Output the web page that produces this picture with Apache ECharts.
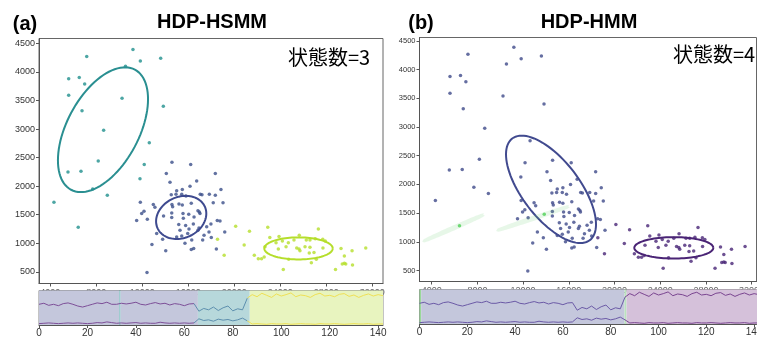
<!DOCTYPE html>
<html>
<head>
<meta charset="utf-8">
<script src="https://cdn.jsdelivr.net/npm/echarts@6.0.0/dist/echarts.min.js"></script>
<style>
  html, body { margin: 0; padding: 0; background: #fff; }
  #chart { width: 757px; height: 337px; }
</style>
</head>
<body>
<div id="chart"></div>
<script>
// ---- scatter points (feature 1, feature 2) ----
const tealPts = [
  [7170, 4270], [11190, 4390], [11830, 4190], [13600, 4240], [10540, 4100],
  [5600, 3880], [6520, 3900], [6990, 3790], [5600, 3590], [10240, 3540],
  [13830, 3400], [6760, 3320], [8640, 2980], [12610, 2760], [8170, 2440],
  [12170, 2380], [5540, 2250], [6670, 2260], [7690, 1950], [8960, 1840],
  [11800, 2130], [4320, 1720]
];
const bluePts = [
  [14090, 2220], [18350, 2220], [14410, 2070], [16730, 2090], [16150, 2000],
  [15480, 1940], [14990, 1920], [18840, 1940], [14520, 1850], [14930, 1860],
  [15430, 1860], [15800, 1830], [17040, 1860], [17190, 1850], [17830, 1860],
  [18350, 1840], [11830, 1720], [12960, 1680], [13100, 1630], [14580, 1680],
  [15190, 1690], [15480, 1670], [16260, 1700], [18170, 1710], [19020, 1710],
  [12150, 1560], [11950, 1520], [14640, 1640], [14560, 1530], [15540, 1520],
  [16040, 1510], [16840, 1570], [16960, 1550], [17020, 1520], [16500, 1460],
  [11510, 1400], [12440, 1420], [14560, 1450], [15570, 1440], [16440, 1340],
  [18520, 1400], [18760, 1390], [17970, 1340], [15170, 1330], [15770, 1310],
  [16930, 1270], [13250, 1170], [15280, 1230], [16060, 1250], [16840, 1230],
  [19170, 1200], [17370, 1140], [15950, 1170], [15430, 1130], [14990, 1110],
  [16300, 1060], [17250, 1060], [18000, 1100], [13770, 1070], [15710, 1000],
  [12840, 980], [16260, 890], [16470, 910], [18440, 900], [14040, 870],
  [12410, 490], [17800, 1200], [17600, 1290], [14580, 2420], [16210, 2380]
];
const yellowPts = [
  [18540, 1070], [19120, 790], [20120, 1300], [21320, 1210], [20860, 970],
  [21740, 790], [22090, 730], [22370, 730], [22600, 760], [22910, 1280],
  [23090, 1100], [22670, 940], [23630, 1010], [23890, 1120], [23830, 900],
  [24260, 540], [24180, 1040], [24700, 1010], [24730, 720], [25650, 1140],
  [25190, 1060], [25630, 900], [25710, 870], [26150, 940], [26260, 1060],
  [26580, 1060], [26580, 930], [26520, 830], [26930, 840], [27040, 1080],
  [27310, 1250], [27690, 1070], [27910, 1040], [27710, 920], [27130, 720],
  [26700, 660], [29280, 910], [29570, 780], [30240, 870], [31430, 920],
  [28800, 540], [29390, 640], [29570, 650], [29690, 640], [30280, 620],
  [24500, 940], [25430, 920]
];
// points that change state between the two models (teal / blue in a, green in b)
const switchPts = [[6430, 1280], [13850, 1480]];

// ---- gaussian ellipses: center + two semi-axis vectors (data units) ----
const ellCenterA = [[8583, 2988], [15383, 1453], [25584, 911]];
const ellAxisA = [[2774, 1051, -2765, 296], [2049, 192, -754, 325], [2974, 0, 0, 193]];
const ellCenterB = [[14442, 1914], [25191, 895], [5934, 1243], [12893, 1409]];
const ellAxisB = [[3396, -886, 1996, 303], [3457, 0, 0, 186], [2582, 226, -35, 16], [3064, 205, -35, 16]];

// ---- bottom strip: two observed sequences, t = 0,2,4,...,142 (normalised) ----
const stripUpper = [
  0.60, 0.63, 0.57, 0.60, 0.56, 0.62, 0.64, 0.60, 0.55, 0.52, 0.56, 0.60, 0.64, 0.62, 0.66, 0.60,
  0.60, 0.63, 0.61, 0.63, 0.66, 0.60, 0.58, 0.62, 0.65, 0.61, 0.63, 0.58, 0.62, 0.60, 0.56, 0.61, 0.62,
  0.40, 0.48, 0.44, 0.52, 0.42, 0.50, 0.55, 0.41, 0.47, 0.44, 0.78,
  0.88, 0.82, 0.92, 0.86, 0.80, 0.90, 0.84, 0.88, 0.93, 0.82, 0.87, 0.85, 0.80, 0.88,
  0.92, 0.84, 0.86, 0.82, 0.89, 0.91, 0.83, 0.87, 0.80, 0.86, 0.90, 0.84, 0.88, 0.85
];
const stripLower = [
  0.04, 0.05, 0.06, 0.05, 0.04, 0.05, 0.06, 0.05, 0.06, 0.05, 0.04, 0.05, 0.07, 0.06, 0.09, 0.07,
  0.05, 0.06, 0.05, 0.06, 0.07, 0.05, 0.06, 0.05, 0.05, 0.08, 0.06, 0.05, 0.06, 0.05, 0.06, 0.05, 0.06,
  0.18, 0.13, 0.15, 0.11, 0.17, 0.14, 0.16, 0.12, 0.15, 0.20, 0.12,
  0.03, 0.04, 0.03, 0.02, 0.04, 0.03, 0.03, 0.04, 0.02, 0.03, 0.04, 0.03, 0.03, 0.02,
  0.04, 0.03, 0.03, 0.04, 0.03, 0.02, 0.03, 0.04, 0.03, 0.03, 0.04, 0.02, 0.03, 0.03
];
// state segments [start, end] on the time axis
const segA = [[0, 33.1], [33.1, 33.7], [33.7, 65.6], [65.6, 87], [87, 142]];
const segB = [[0, 0.7], [0.7, 85.8], [85.8, 86.6], [86.6, 142]];
// index ranges of the sequences drawn in each state's colour
const lineRangesA = [[0, 33], [32, 44], [43, 72]];
const lineRangesB = [[0, 44], [43, 72]];

const yTicks = [500, 1000, 1500, 2000, 2500, 3000, 3500, 4000, 4500];
const xTicks = [4000, 8000, 12000, 16000, 20000, 24000, 28000, 32000];

// colours
const cTeal = '#21908d', cBlue = '#3b4f8a', cYellow = '#b5de2b';
const cBlueB = '#3e4a89', cPurple = '#482677', cGreen = '#4fcf55';
const segColorsA = ['#c4c7dc', '#8cc3c6', '#c4c7dc', '#b7d8db', '#e8f4bf'];
const segColorsB = ['#9ad89a', '#c4c7dc', '#b9e3bd', '#d5c1da'];
const lineColorsA = ['#7d4f98', '#5d8fae', '#efe055'];
const lineColorsB = ['#6b5aa6', '#7a4590'];
const ellColorsA = ['#2a8f91', '#3e4a8f', '#b5de2b'];
const ellColorsB = ['#414a8f', '#4a2475', '#5ec962', '#5ec962'];
const ellOpacityB = [1, 1, 0.15, 0.15];

const stripData = (arr, r) => arr.map((v, i) => [i * 2, v]).slice(r[0], r[1]);

function ellipseItem(axes, colors, opac) {
  return function (params, api) {
    const i = params.dataIndex;
    const cx = api.value(0), cy = api.value(1);
    const a = axes[i];
    const pts = [];
    for (let k = 0; k <= 96; k++) {
      const t = (k / 96) * Math.PI * 2;
      pts.push(api.coord([
        cx + a[0] * Math.cos(t) + a[2] * Math.sin(t),
        cy + a[1] * Math.cos(t) + a[3] * Math.sin(t)
      ]));
    }
    return {
      type: 'polyline',
      shape: { points: pts },
      style: { stroke: colors[i], lineWidth: opac && opac[i] < 1 ? 3 : 2, fill: null, opacity: opac ? opac[i] : 1 }
    };
  };
}

function segItem(colors) {
  return function (params, api) {
    const s = api.coord([api.value(0), 1]);
    const e = api.coord([api.value(1), 0]);
    return {
      type: 'rect',
      shape: { x: s[0], y: s[1], width: e[0] - s[0], height: e[1] - s[1] },
      style: { fill: colors[params.dataIndex], stroke: '#999', lineWidth: 0 }
    };
  };
}

// one line series per state colour
function stripLines(xi, ranges, colors) {
  const out = [];
  ranges.forEach((r, k) => {
    [stripUpper, stripLower].forEach((arr) => {
      out.push({
        type: 'line', xAxisIndex: xi, yAxisIndex: xi, data: stripData(arr, r),
        showSymbol: false, silent: true, zlevel: 1, z: 11,
        lineStyle: { width: 1, color: colors[k] }
      });
    });
  });
  return out;
}

const axisGray = { lineStyle: { color: '#555', width: 1 } };
const lblFont = '"Liberation Sans", Arial';
const plain = (v) => String(v);

function scatterX(grid, min, max) {
  return {
    gridIndex: grid, type: 'value', min: min, max: max,
    axisLine: axisGray, splitLine: { show: false },
    axisTick: { customValues: xTicks, length: 3, lineStyle: { color: '#555' } },
    axisLabel: { customValues: xTicks, formatter: plain, fontSize: 9, color: '#666', margin: 5, fontFamily: lblFont }
  };
}
function scatterY(grid, min, max, fs) {
  return {
    gridIndex: grid, type: 'value', min: min, max: max,
    axisLine: { show: true, lineStyle: { color: '#555', width: 1 } }, splitLine: { show: false },
    axisTick: { customValues: yTicks, length: 3, lineStyle: { color: '#555' } },
    axisLabel: { customValues: yTicks, formatter: plain, fontSize: fs, color: '#333', margin: 4, fontFamily: lblFont }
  };
}
function stripX(grid, max) {
  return {
    gridIndex: grid, type: 'value', min: 0, max: max, interval: 20,
    axisLine: axisGray, splitLine: { show: false },
    axisTick: { length: 3, lineStyle: { color: '#555' } },
    axisLabel: { fontSize: 10, color: '#333', margin: 3, fontFamily: lblFont, showMaxLabel: false }
  };
}
function stripY(grid) {
  return {
    gridIndex: grid, type: 'value', min: 0, max: 1,
    axisLine: { show: false }, axisTick: { show: false }, axisLabel: { show: false }, splitLine: { show: false }
  };
}

const gridBase = { show: true, borderWidth: 1, outerBoundsMode: 'none', containLabel: false };

const myChart = echarts.init(document.getElementById('chart'));
myChart.setOption({
  animation: false,
  backgroundColor: '#fff',
  grid: [
    Object.assign({ left: 39, top: 38.5, width: 344, height: 245, borderColor: '#666' }, gridBase),
    Object.assign({ left: 39, top: 290.5, width: 344, height: 34.5, borderColor: '#888' }, gridBase),
    Object.assign({ left: 419.5, top: 37.5, width: 337, height: 244, borderColor: '#666' }, gridBase),
    Object.assign({ left: 419.5, top: 289.5, width: 337, height: 34.5, borderColor: '#888' }, gridBase)
  ],
  xAxis: [
    scatterX(0, 3020, 32930),
    stripX(1, 142),
    scatterX(2, 2930, 32430),
    stripX(3, 141)
  ],
  yAxis: [
    scatterY(0, 297, 4584, 9),
    stripY(1),
    scatterY(2, 308, 4561, 7.5),
    stripY(3)
  ],
  series: [
    // ---- (a) HDP-HSMM ----
    { type: 'scatter', xAxisIndex: 0, yAxisIndex: 0, symbolSize: 3.5, itemStyle: { color: cTeal }, data: tealPts.concat([switchPts[0]]) },
    { type: 'scatter', xAxisIndex: 0, yAxisIndex: 0, symbolSize: 3.5, itemStyle: { color: cBlue }, data: bluePts.concat([switchPts[1]]) },
    { type: 'scatter', xAxisIndex: 0, yAxisIndex: 0, symbolSize: 3.5, itemStyle: { color: cYellow }, data: yellowPts },
    { type: 'custom', xAxisIndex: 0, yAxisIndex: 0, renderItem: ellipseItem(ellAxisA, ellColorsA), data: ellCenterA, z: 3 },
    { type: 'custom', xAxisIndex: 1, yAxisIndex: 1, renderItem: segItem(segColorsA), data: segA, encode: { x: [0, 1] }, zlevel: 1, z: 10 },
    // ---- (b) HDP-HMM ----
    { type: 'custom', xAxisIndex: 2, yAxisIndex: 2, renderItem: ellipseItem(ellAxisB, ellColorsB, ellOpacityB), data: ellCenterB, z: 3 },
    { type: 'scatter', xAxisIndex: 2, yAxisIndex: 2, symbolSize: 3.5, itemStyle: { color: cBlueB }, data: tealPts.concat(bluePts) },
    { type: 'scatter', xAxisIndex: 2, yAxisIndex: 2, symbolSize: 3.5, itemStyle: { color: cPurple }, data: yellowPts },
    { type: 'scatter', xAxisIndex: 2, yAxisIndex: 2, symbolSize: 3.5, itemStyle: { color: cGreen }, data: switchPts, z: 5 },
    { type: 'custom', xAxisIndex: 3, yAxisIndex: 3, renderItem: segItem(segColorsB), data: segB, encode: { x: [0, 1] }, zlevel: 1, z: 10 }
  ].concat(stripLines(1, lineRangesA, lineColorsA), stripLines(3, lineRangesB, lineColorsB)),
  graphic: [
    { type: 'text', x: 25, y: 24, style: { text: '(a)', font: 'bold 20px "Liberation Sans", Arial', fill: '#000', textAlign: 'center', textVerticalAlign: 'middle' } },
    { type: 'text', x: 212, y: 22.5, style: { text: 'HDP-HSMM', font: 'bold 20px "Liberation Sans", Arial', fill: '#000', textAlign: 'center', textVerticalAlign: 'middle' } },
    { type: 'text', x: 421, y: 23, style: { text: '(b)', font: 'bold 20px "Liberation Sans", Arial', fill: '#000', textAlign: 'center', textVerticalAlign: 'middle' } },
    { type: 'text', x: 589, y: 22.5, style: { text: 'HDP-HMM', font: 'bold 20px "Liberation Sans", Arial', fill: '#000', textAlign: 'center', textVerticalAlign: 'middle' } },
    { type: 'text', x: 329, y: 57, style: { text: '状態数=3', font: '20px "Noto Sans CJK JP"', fill: '#000', textAlign: 'center', textVerticalAlign: 'middle' } },
    { type: 'text', x: 714, y: 54, style: { text: '状態数=4', font: '20px "Noto Sans CJK JP"', fill: '#000', textAlign: 'center', textVerticalAlign: 'middle' } }
  ]
});
</script>
</body>
</html>
